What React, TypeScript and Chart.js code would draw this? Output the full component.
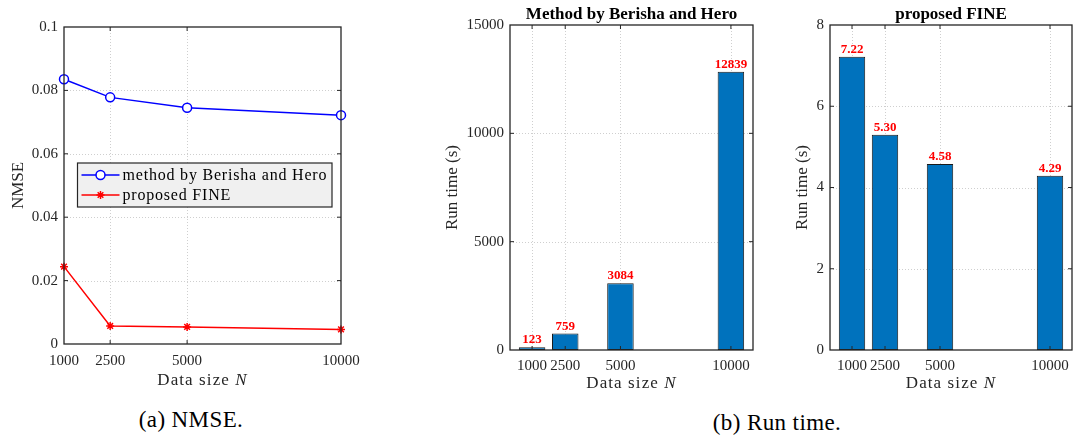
import React, { useEffect, useRef } from 'react';
import { Chart, registerables } from 'chart.js';

Chart.register(...registerables);

// ---------------- data ----------------
const dataSizes = [1000, 2500, 5000, 10000];
const xTickLabels = ['1000', '2500', '5000', '10000'];

const nmseBerisha = [0.0835, 0.0778, 0.0745, 0.0722];
const nmseFine = [0.0244, 0.0057, 0.0054, 0.0046];
const nmseYTicks = [0, 0.02, 0.04, 0.06, 0.08, 0.1];
const nmseYTickLabels = ['0', '0.02', '0.04', '0.06', '0.08', '0.1'];

const runBerisha = [123, 759, 3084, 12839];
const runBerishaLabels = ['123', '759', '3084', '12839'];
const runBerishaYTicks = [0, 5000, 10000, 15000];
const runBerishaYTickLabels = ['0', '5000', '10000', '15000'];

const runFine = [7.22, 5.3, 4.58, 4.29];
const runFineLabels = ['7.22', '5.30', '4.58', '4.29'];
const runFineYTicks = [0, 2, 4, 6, 8];
const runFineYTickLabels = ['0', '2', '4', '6', '8'];

// ---------------- style ----------------
const SERIF = '"Liberation Serif", "Times New Roman", serif';
const AXIS = '#262626';
const BAR_BLUE = '#0072BD';

const matlabPlugin = {
  id: 'matlab',
  beforeDatasetsDraw(chart: any, _a: any, o: any) {
    const { ctx, chartArea: a } = chart;
    const xs = chart.scales.x;
    const ys = chart.scales.y;
    ctx.save();
    ctx.strokeStyle = 'rgba(38,38,38,0.22)';
    ctx.lineWidth = 1;
    ctx.setLineDash([1, 2]);
    ctx.beginPath();
    o.xTicks.forEach((v: number) => {
      const px = Math.round(xs.getPixelForValue(v)) + 0.5;
      if (px < a.left + 2 || px > a.right - 2) return;
      ctx.moveTo(px, a.top);
      ctx.lineTo(px, a.bottom);
    });
    o.yTicks.forEach((v: number) => {
      const py = Math.round(ys.getPixelForValue(v)) + 0.5;
      if (py < a.top + 2 || py > a.bottom - 2) return;
      ctx.moveTo(a.left, py);
      ctx.lineTo(a.right, py);
    });
    ctx.stroke();
    ctx.restore();
  },
  afterDatasetsDraw(chart: any, _a: any, o: any) {
    const { ctx, chartArea: a } = chart;
    const xs = chart.scales.x;
    const ys = chart.scales.y;
    ctx.save();

    // value labels above bars
    if (o.barLabels) {
      const meta = chart.getDatasetMeta(0);
      ctx.fillStyle = '#ff0000';
      ctx.font = `bold 13px ${SERIF}`;
      ctx.textAlign = 'center';
      ctx.textBaseline = 'alphabetic';
      meta.data.forEach((el: any, i: number) => {
        ctx.fillText(o.barLabels[i], el.x, el.y - 4);
      });
    }

    // legend
    if (o.legend) {
      const L = o.legend;
      ctx.fillStyle = '#f0f0f0';
      ctx.fillRect(L.x, L.y, L.w, L.h);
      ctx.strokeStyle = AXIS;
      ctx.lineWidth = 1.2;
      ctx.strokeRect(L.x, L.y, L.w, L.h);
      chart.data.datasets.forEach((ds: any, i: number) => {
        const cy = L.y + L.rowTop + i * L.rowGap;
        ctx.strokeStyle = ds.borderColor;
        ctx.lineWidth = 1.5;
        ctx.beginPath();
        ctx.moveTo(L.x + 4, cy);
        ctx.lineTo(L.x + 42, cy);
        ctx.stroke();
        const mx = L.x + 23;
        if (ds.pointStyle === 'circle') {
          ctx.fillStyle = '#ffffff';
          ctx.beginPath();
          ctx.arc(mx, cy, 4.5, 0, Math.PI * 2);
          ctx.fill();
          ctx.stroke();
        } else {
          const r = 4;
          const d = r * Math.SQRT1_2;
          ctx.beginPath();
          ctx.moveTo(mx, cy - r); ctx.lineTo(mx, cy + r);
          ctx.moveTo(mx - r, cy); ctx.lineTo(mx + r, cy);
          ctx.moveTo(mx - d, cy - d); ctx.lineTo(mx + d, cy + d);
          ctx.moveTo(mx - d, cy + d); ctx.lineTo(mx + d, cy - d);
          ctx.stroke();
        }
        ctx.fillStyle = '#000000';
        ctx.font = `16px ${SERIF}`;
        (ctx as any).letterSpacing = '0.8px';
        ctx.textAlign = 'left';
        ctx.textBaseline = 'middle';
        ctx.fillText(ds.label, L.x + 45, cy + 1);
        (ctx as any).letterSpacing = '0px';
      });
    }

    // box
    ctx.strokeStyle = AXIS;
    ctx.lineWidth = 1.3;
    ctx.strokeRect(a.left, a.top, a.right - a.left, a.bottom - a.top);

    // inward tick marks
    const tl = 4;
    ctx.lineWidth = 1;
    ctx.beginPath();
    o.xTicks.forEach((v: number) => {
      const px = xs.getPixelForValue(v);
      if (px < a.left + 1 || px > a.right - 1) return;
      ctx.moveTo(px, a.bottom); ctx.lineTo(px, a.bottom - tl);
      ctx.moveTo(px, a.top); ctx.lineTo(px, a.top + tl);
    });
    o.yTicks.forEach((v: number) => {
      const py = ys.getPixelForValue(v);
      if (py < a.top + 1 || py > a.bottom - 1) return;
      ctx.moveTo(a.left, py); ctx.lineTo(a.left + tl, py);
      ctx.moveTo(a.right, py); ctx.lineTo(a.right - tl, py);
    });
    ctx.stroke();

    // tick labels
    ctx.fillStyle = AXIS;
    ctx.font = `15px ${SERIF}`;
    ctx.textAlign = 'center';
    ctx.textBaseline = 'alphabetic';
    o.xTicks.forEach((v: number, i: number) => {
      ctx.fillText(o.xTickLabels[i], xs.getPixelForValue(v), a.bottom + o.xLabelOffset);
    });
    ctx.textAlign = 'right';
    ctx.textBaseline = 'middle';
    o.yTicks.forEach((v: number, i: number) => {
      ctx.fillText(o.yTickLabels[i], a.left - 6, ys.getPixelForValue(v));
    });

    // x title: "Data size N" with italic N
    {
      const cx = (a.left + a.right) / 2;
      const by = a.bottom + o.xTitleOffset;
      (ctx as any).letterSpacing = '1.1px';
      ctx.font = `17px ${SERIF}`;
      const t1 = 'Data size ';
      const w1 = ctx.measureText(t1).width;
      ctx.font = `italic 17px ${SERIF}`;
      const w2 = ctx.measureText('N').width;
      const sx = cx - (w1 + w2) / 2;
      ctx.fillStyle = AXIS;
      ctx.textAlign = 'left';
      ctx.textBaseline = 'alphabetic';
      ctx.font = `17px ${SERIF}`;
      ctx.fillText(t1, sx, by);
      ctx.font = `italic 17px ${SERIF}`;
      ctx.fillText('N', sx + w1, by);
      (ctx as any).letterSpacing = '0px';
    }

    // y title
    {
      ctx.save();
      ctx.translate(o.yTitleX, (a.top + a.bottom) / 2);
      ctx.rotate(-Math.PI / 2);
      ctx.fillStyle = AXIS;
      ctx.font = `17px ${SERIF}`;
      ctx.textAlign = 'center';
      ctx.textBaseline = 'middle';
      ctx.fillText(o.yTitle, 0, 0);
      ctx.restore();
    }

    // chart title
    if (o.title) {
      ctx.fillStyle = '#000000';
      ctx.font = `bold 17px ${SERIF}`;
      ctx.textAlign = 'center';
      ctx.textBaseline = 'alphabetic';
      ctx.fillText(o.title, (a.left + a.right) / 2, o.titleY);
    }

    ctx.restore();
  },
};

function fixedAxes(yWidth: number, xHeight: number, xMin: number, xMax: number, yMin: number, yMax: number, xTicks: number[], yTicks: number[]) {
  return {
    x: {
      type: 'linear',
      min: xMin,
      max: xMax,
      offset: false,
      grid: { display: false, drawTicks: false },
      border: { display: false },
      ticks: { display: false },
      afterBuildTicks: (s: any) => { s.ticks = xTicks.map((v) => ({ value: v })); },
      afterFit: (s: any) => { s.height = xHeight; s.paddingLeft = 0; s.paddingRight = 0; },
    },
    y: {
      type: 'linear',
      min: yMin,
      max: yMax,
      grid: { display: false, drawTicks: false },
      border: { display: false },
      ticks: { display: false },
      afterBuildTicks: (s: any) => { s.ticks = yTicks.map((v) => ({ value: v })); },
      afterFit: (s: any) => { s.width = yWidth; s.paddingTop = 0; s.paddingBottom = 0; },
    },
  };
}

function nmseConfig(): any {
  return {
    type: 'line',
    data: {
      datasets: [
        {
          label: 'method by Berisha and Hero',
          data: dataSizes.map((x, i) => ({ x, y: nmseBerisha[i] })),
          borderColor: '#0000ff',
          borderWidth: 1.5,
          pointStyle: 'circle',
          pointRadius: 4.5,
          pointBackgroundColor: '#ffffff',
          pointBorderColor: '#0000ff',
          pointBorderWidth: 1.5,
          tension: 0,
          clip: false,
        },
        {
          label: 'proposed FINE',
          data: dataSizes.map((x, i) => ({ x, y: nmseFine[i] })),
          borderColor: '#ff0000',
          borderWidth: 1.5,
          pointStyle: 'star',
          pointRadius: 4,
          pointBackgroundColor: '#ff0000',
          pointBorderColor: '#ff0000',
          pointBorderWidth: 1.5,
          tension: 0,
          clip: false,
        },
      ],
    },
    options: {
      animation: false,
      responsive: false,
      maintainAspectRatio: false,
      events: [],
      layout: { padding: { top: 27, right: 39, left: 0, bottom: 0 } },
      plugins: {
        legend: { display: false },
        tooltip: { enabled: false },
        matlab: {
          xTicks: dataSizes,
          xTickLabels,
          yTicks: nmseYTicks,
          yTickLabels: nmseYTickLabels,
          xLabelOffset: 21,
          xTitleOffset: 41,
          yTitle: 'NMSE',
          yTitleX: 19,
          legend: { x: 77.5, y: 163, w: 254.5, h: 44, rowTop: 12, rowGap: 20 },
        },
      },
      scales: fixedAxes(64, 56, 1000, 10000, 0, 0.1, dataSizes, nmseYTicks),
    },
    plugins: [matlabPlugin],
  };
}

function barConfig(values: number[], labels: string[], yMax: number, yTicks: number[], yTickLabels: string[], title: string, yWidth: number, padRight: number, yTitleX: number): any {
  return {
    type: 'bar',
    data: {
      datasets: [
        {
          label: title,
          data: dataSizes.map((x, i) => ({ x, y: values[i] })),
          backgroundColor: BAR_BLUE,
          borderColor: '#1a1a1a',
          borderWidth: 1,
          borderSkipped: false,
          barPercentage: 0.8,
          categoryPercentage: 1,
          clip: false,
        },
      ],
    },
    options: {
      animation: false,
      responsive: false,
      maintainAspectRatio: false,
      events: [],
      layout: { padding: { top: 25, right: padRight, left: 0, bottom: 0 } },
      plugins: {
        legend: { display: false },
        tooltip: { enabled: false },
        matlab: {
          xTicks: dataSizes,
          xTickLabels,
          yTicks,
          yTickLabels,
          xLabelOffset: 20,
          xTitleOffset: 38,
          yTitle: 'Run time (s)',
          yTitleX,
          title,
          titleY: 19,
          barLabels: labels,
        },
      },
      scales: fixedAxes(yWidth, 50, 0, 11000, 0, yMax, dataSizes, yTicks),
    },
    plugins: [matlabPlugin],
  };
}

function ChartCanvas(props: { left: number; top: number; width: number; height: number; make: () => any }) {
  const ref = useRef<HTMLCanvasElement>(null);
  useEffect(() => {
    const chart = new Chart(ref.current as HTMLCanvasElement, props.make());
    return () => chart.destroy();
  }, []);
  return (
    <canvas
      ref={ref}
      width={props.width}
      height={props.height}
      style={{ position: 'absolute', left: props.left, top: props.top, width: props.width, height: props.height }}
    />
  );
}

const captionStyle: React.CSSProperties = {
  position: 'absolute',
  width: 300,
  textAlign: 'center',
  fontFamily: SERIF,
  fontSize: 23,
  lineHeight: '23px',
  color: '#000',
  whiteSpace: 'nowrap',
  letterSpacing: '0.4px',
};

export default function App() {
  return (
    <div style={{ position: 'fixed', left: 0, top: 0, width: 1073, height: 439, background: '#ffffff', overflow: 'hidden' }}>
      <ChartCanvas left={0} top={0} width={380} height={400} make={nmseConfig} />
      <ChartCanvas
        left={430}
        top={0}
        width={350}
        height={400}
        make={() => barConfig(runBerisha, runBerishaLabels, 15000, runBerishaYTicks, runBerishaYTickLabels, 'Method by Berisha and Hero', 80, 27, 22.5)}
      />
      <ChartCanvas
        left={780}
        top={0}
        width={293}
        height={400}
        make={() => barConfig(runFine, runFineLabels, 8, runFineYTicks, runFineYTickLabels, 'proposed FINE', 50, 1, 22.5)}
      />
      <div style={{ ...captionStyle, left: 191 - 150, top: 408 }}>(a) NMSE.</div>
      <div style={{ ...captionStyle, left: 777 - 150, top: 411 }}>(b) Run time.</div>
    </div>
  );
}
